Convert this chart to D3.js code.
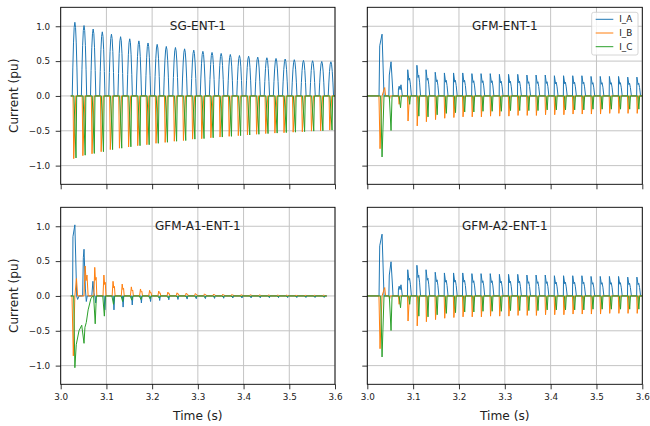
<!DOCTYPE html>
<html>
<head>
<meta charset="utf-8">
<script src="https://cdn.jsdelivr.net/npm/d3@7"></script>
<style>
  body { margin: 0; background: #fff; }
  svg { display: block; font-family: "DejaVu Sans", sans-serif; }
</style>
</head>
<body>
<svg id="chart" width="650" height="426"></svg>
<script>
// ticks and labels
const timeTicks = [3.0, 3.1, 3.2, 3.3, 3.4, 3.5, 3.6];
const currentTicks = [-1.0, -0.5, 0.0, 0.5, 1.0];
const phaseNames = ["I_A", "I_B", "I_C"];
const phaseColors = ["#1f77b4", "#ff7f0e", "#2ca02c"];
const panelTitles = ["SG-ENT-1", "GFM-ENT-1", "GFM-A1-ENT-1", "GFM-A2-ENT-1"];

// SG-ENT-1 : one pulse per cycle, peak times and peak values
const sgPeakTimes = [3.031, 3.051, 3.071, 3.091, 3.111, 3.131, 3.151, 3.171, 3.191, 3.211,
  3.231, 3.251, 3.271, 3.291, 3.311, 3.331, 3.351, 3.371, 3.391, 3.411,
  3.431, 3.451, 3.471, 3.491, 3.511, 3.531, 3.551, 3.571, 3.591];
const sgAmpA = [1.057, 1.01, 0.96, 0.92, 0.886, 0.85, 0.82, 0.79, 0.76, 0.74, 0.71, 0.695, 0.676, 0.657,
  0.64, 0.624, 0.61, 0.595, 0.58, 0.57, 0.557, 0.548, 0.538, 0.53, 0.52, 0.51, 0.505, 0.495, 0.49];
const sgAmpB = [-0.90, -0.857, -0.83, -0.80, -0.77, -0.75, -0.733, -0.714, -0.70, -0.68, -0.667, -0.65,
  -0.64, -0.62, -0.614, -0.60, -0.59, -0.58, -0.57, -0.56, -0.55, -0.54, -0.533, -0.528, -0.52,
  -0.514, -0.505, -0.50, -0.49];
const sgAmpC = [-0.89, -0.85, -0.825, -0.80, -0.77, -0.75, -0.73, -0.714, -0.70, -0.68, -0.665, -0.65,
  -0.64, -0.62, -0.612, -0.60, -0.59, -0.58, -0.57, -0.56, -0.55, -0.54, -0.533, -0.526, -0.52,
  -0.512, -0.505, -0.50, -0.49];
// pulse shapes: [offset from pulse time (s), fraction of the pulse value]
const sgShapeA = [[-0.0058, 0], [-0.0045, 0.38], [-0.003, 0.72], [-0.0015, 0.93], [0, 1],
  [0.0015, 0.93], [0.003, 0.72], [0.0045, 0.38], [0.0058, 0]];
const sgShapeB = [[-0.004, 0], [-0.0025, 1], [0.002, 0]];
const sgShapeC = [[-0.002, 0], [0.0025, 1], [0.004, 0]];

// GFM-ENT-1 : first cycles read point by point, then steady pulses
const gfmLeadA = [[3.0256, 0], [3.0271, 0.72], [3.0322, 0.886], [3.0365, 0], [3.047, 0], [3.048, 0.3],
  [3.0518, 0.49], [3.0545, 0.2], [3.0562, 0], [3.0675, 0], [3.068, 0.1], [3.0695, 0.14],
  [3.0715, 0.09], [3.0735, 0.16], [3.0765, 0]];
const gfmLeadB = [[3.0254, 0], [3.0278, -0.757], [3.0322, 0], [3.036, 0.08], [3.038, 0.12], [3.040, 0],
  [3.0475, 0], [3.0485, -0.05], [3.050, 0], [3.068, 0], [3.0695, -0.12], [3.071, 0]];
const gfmLeadC = [[3.029, 0], [3.0322, -0.876], [3.0365, 0], [3.048, 0], [3.0518, -0.496], [3.054, 0],
  [3.0695, 0], [3.0725, -0.17], [3.0745, 0]];
const gfmPulseTimes = [3.088, 3.108, 3.128, 3.148, 3.168, 3.188, 3.208, 3.228, 3.248, 3.268,
  3.288, 3.308, 3.328, 3.348, 3.368, 3.388, 3.408, 3.428, 3.448, 3.468,
  3.488, 3.508, 3.528, 3.548, 3.568, 3.588];
const gfmAmpA = [0.376, 0.44, 0.376, 0.34, 0.33, 0.33, 0.33, 0.32, 0.32, 0.32, 0.31, 0.31, 0.31,
  0.30, 0.30, 0.30, 0.29, 0.29, 0.29, 0.29, 0.28, 0.28, 0.28, 0.28, 0.27, 0.27];
const gfmAmpB = [-0.36, -0.43, -0.37, -0.34, -0.32, -0.31, -0.30, -0.30, -0.30, -0.29, -0.29, -0.29,
  -0.28, -0.28, -0.28, -0.27, -0.27, -0.27, -0.26, -0.26, -0.26, -0.26, -0.25, -0.25, -0.25, -0.25];
const gfmAmpC = [-0.12, -0.29, -0.30, -0.27, -0.25, -0.24, -0.23, -0.23, -0.22, -0.22, -0.22, -0.21,
  -0.21, -0.21, -0.21, -0.20, -0.20, -0.20, -0.20, -0.20, -0.19, -0.19, -0.19, -0.19, -0.19, -0.19];
const gfmShapeA = [[-0.0003, 0], [0.0002, 1], [0.0028, 0.6], [0.0042, 0.68], [0.006, 0.45], [0.0082, 0]];
const gfmShapeB = [[-0.0003, 0], [0.0009, 1], [0.004, 0]];
const gfmShapeC = [[0.002, 0], [0.0045, 1], [0.0062, 0]];

// GFM-A1-ENT-1 : decaying oscillation
const a1LeadA = [[3.026, 0], [3.0268, 0.85], [3.031, 1.02], [3.035, 0], [3.037, -0.05], [3.040, 0],
  [3.048, 0], [3.0495, 0.55], [3.051, 0.67], [3.054, 0.1], [3.056, -0.08], [3.058, 0],
  [3.068, 0], [3.0705, 0.21], [3.0725, 0.05], [3.074, 0]];
const a1LeadB = [[3.0247, 0], [3.0276, -0.86], [3.031, 0], [3.0345, 0.25], [3.037, 0], [3.051, 0],
  [3.0535, 0.43], [3.0555, 0.22], [3.0575, 0.3], [3.060, 0]];
const a1LeadC = [[3.0284, 0], [3.031, -1.03], [3.034, -0.7], [3.040, -0.5], [3.046, -0.42],
  [3.051, -0.68], [3.053, -0.45], [3.056, -0.38], [3.060, -0.2], [3.066, -0.04], [3.070, 0]];
const a1PulseTimes = [3.074, 3.094, 3.114, 3.134, 3.154, 3.174, 3.194, 3.214, 3.234, 3.254,
  3.274, 3.294, 3.314, 3.334, 3.354, 3.374, 3.394, 3.414, 3.434, 3.454,
  3.474, 3.494, 3.514, 3.534, 3.554, 3.574];
const a1AmpA = [-0.1, -0.2, -0.2, -0.16, -0.13, -0.10, -0.08, -0.065, -0.055, -0.05, -0.045, -0.04,
  -0.038, -0.035, -0.033, -0.03, -0.03, -0.028, -0.027, -0.026, -0.025, -0.024, -0.023, -0.022,
  -0.022, -0.021];
const a1AmpB = [0.41, 0.30, 0.21, 0.17, 0.13, 0.10, 0.08, 0.07, 0.055, 0.045, 0.04, 0.035, 0.03,
  0.027, 0.024, 0.022, 0.02, 0.018, 0.016, 0.015, 0.014, 0.013, 0.012, 0.011, 0.01, 0.01];
const a1AmpC = [-0.40, -0.29, -0.12, -0.08, -0.06, -0.05, -0.04, -0.03, -0.03, -0.02, -0.02, -0.02,
  -0.02, -0.015, -0.015, -0.015, -0.01, -0.01, -0.01, -0.01, -0.01, -0.01, -0.01, -0.01, -0.01, -0.01];
const a1ShapeA = [[0.001, 0], [0.0025, 1], [0.004, 0]];
const a1ShapeB = [[-0.0015, 0], [0.0005, 1], [0.002, 0.55], [0.0035, 0.65], [0.005, 0]];
const a1ShapeC = [[-0.002, 0], [0.0015, 1], [0.004, 0]];

// GFM-A2-ENT-1 reads the same as GFM-ENT-1
const a2LeadA = gfmLeadA, a2LeadB = gfmLeadB, a2LeadC = gfmLeadC;
const a2AmpA = gfmAmpA, a2AmpB = gfmAmpB, a2AmpC = gfmAmpC;

const panels = [
  { title: panelTitles[0], t0: 3.022, t1: 3.6, times: sgPeakTimes,
    lead: [[], [], []], amps: [sgAmpA, sgAmpB, sgAmpC], shapes: [sgShapeA, sgShapeB, sgShapeC] },
  { title: panelTitles[1], t0: 3.0, t1: 3.6, times: gfmPulseTimes,
    lead: [gfmLeadA, gfmLeadB, gfmLeadC], amps: [gfmAmpA, gfmAmpB, gfmAmpC], shapes: [gfmShapeA, gfmShapeB, gfmShapeC] },
  { title: panelTitles[2], t0: 3.022, t1: 3.582, times: a1PulseTimes,
    lead: [a1LeadA, a1LeadB, a1LeadC], amps: [a1AmpA, a1AmpB, a1AmpC], shapes: [a1ShapeA, a1ShapeB, a1ShapeC] },
  { title: panelTitles[3], t0: 3.0, t1: 3.6, times: gfmPulseTimes,
    lead: [a2LeadA, a2LeadB, a2LeadC], amps: [a2AmpA, a2AmpB, a2AmpC], shapes: [gfmShapeA, gfmShapeB, gfmShapeC] }
];

const buildSeries = (p, k) => {
  const pts = [[p.t0, 0]].concat(p.lead[k]);
  p.times.forEach((t, i) => {
    p.shapes[k].forEach(([dt, f]) => pts.push([t + dt, p.amps[k][i] * f]));
  });
  pts.push([p.t1, 0]);
  return pts.sort((a, b) => a[0] - b[0]);
};

/* layout */
const cols = [[60.7, 335], [367.3, 642.3]];
const rows = [[7.3, 184.3], [207.3, 384.3]];
const svg = d3.select("#chart");
const fmt = d3.format(".1f");

panels.forEach((p, idx) => {
  const c = idx % 2, r = Math.floor(idx / 2);
  const [x0, x1] = cols[c], [y0, y1] = rows[r];
  const x = d3.scaleLinear().domain([3.0, 3.6]).range([x0, x1]);
  const y = d3.scaleLinear().domain([-1.268, 1.272]).range([y1, y0]);
  const g = svg.append("g");

  g.append("clipPath").attr("id", "clip" + idx)
    .append("rect").attr("x", x0).attr("y", y0).attr("width", x1 - x0).attr("height", y1 - y0);

  //grid
  g.selectAll(".gx").data(timeTicks).join("line")
    .attr("x1", d => x(d)).attr("x2", d => x(d)).attr("y1", y0).attr("y2", y1)
    .attr("stroke", "#c4c4c4").attr("stroke-width", 1);
  g.selectAll(".gy").data(currentTicks).join("line")
    .attr("x1", x0).attr("x2", x1).attr("y1", d => y(d)).attr("y2", d => y(d))
    .attr("stroke", "#c4c4c4").attr("stroke-width", 1);

  //lines
  const line = d3.line().x(d => x(d[0])).y(d => y(d[1]));
  const lg = g.append("g").attr("clip-path", `url(#clip${idx})`);
  [0, 1, 2].forEach(k => {
    lg.append("path").attr("d", line(buildSeries(p, k)))
      .attr("fill", "none").attr("stroke", phaseColors[k])
      .attr("stroke-width", 1).attr("stroke-linejoin", "round");
  });

  //axes
  const yaxis = d3.axisLeft(y).tickValues(currentTicks).tickSize(5).tickPadding(5.5)
    .tickFormat(c === 0 ? fmt : "");
  const xaxis = d3.axisBottom(x).tickValues(timeTicks).tickSize(5).tickPadding(4.5)
    .tickFormat(r === 1 ? fmt : "");
  const ya = g.append("g").attr("transform", `translate(${x0},0)`).call(yaxis);
  const xa = g.append("g").attr("transform", `translate(0,${y1})`).call(xaxis);
  [ya, xa].forEach(a => {
    a.select(".domain").remove();
    a.selectAll("line").attr("stroke", "#000").attr("stroke-width", 0.8);
    a.selectAll("text").attr("fill", "#222").attr("font-size", "8.8px")
      .attr("font-family", '"DejaVu Sans", sans-serif');
  });

  //spines
  g.append("rect").attr("x", x0).attr("y", y0).attr("width", x1 - x0).attr("height", y1 - y0)
    .attr("fill", "none").attr("stroke", "#000").attr("stroke-width", 0.9);

  g.append("text").attr("x", (x0 + x1) / 2).attr("y", y0 + 23)
    .attr("text-anchor", "middle").attr("font-size", "12px").attr("fill", "#222").text(p.title);

  if (c === 0) {
    g.append("text").attr("transform", `translate(18,${(y0 + y1) / 2}) rotate(-90)`)
      .attr("text-anchor", "middle").attr("font-size", "12.2px").attr("fill", "#222")
      .text("Current (pu)");
  }
  if (r === 1) {
    g.append("text").attr("x", (x0 + x1) / 2).attr("y", 419.5)
      .attr("text-anchor", "middle").attr("font-size", "12.2px").attr("fill", "#222")
      .text("Time (s)");
  }
});

// legend, top right panel
const leg = svg.append("g").attr("transform", "translate(591.7,12.3)");
leg.append("rect").attr("width", 46.3).attr("height", 42.7).attr("rx", 2)
  .attr("fill", "#fff").attr("fill-opacity", 0.8).attr("stroke", "#cccccc").attr("stroke-width", 0.8);
phaseNames.forEach((n, k) => {
  const yy = 7 + k * 13.7;
  leg.append("line").attr("x1", 4).attr("x2", 21.6).attr("y1", yy).attr("y2", yy)
    .attr("stroke", phaseColors[k]).attr("stroke-width", 1);
  leg.append("text").attr("x", 27.5).attr("y", yy).attr("dy", "0.35em")
    .attr("font-size", "8.8px").attr("fill", "#222").text(n);
});
</script>
</body>
</html>
